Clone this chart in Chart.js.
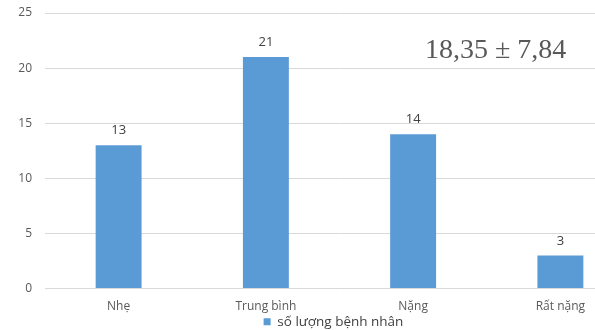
<!DOCTYPE html>
<html>
<head>
<meta charset="utf-8">
<script src="https://cdn.jsdelivr.net/npm/chart.js@4.4.1/dist/chart.umd.min.js"></script>
<style>
  html, body { margin: 0; padding: 0; background: #fff; overflow: hidden; }
  #wrap { width: 595px; height: 330px; overflow: hidden; position: relative; }
  canvas { display: block; }
</style>
</head>
<body>
<div id="wrap">
  <canvas id="chart" width="634" height="330"></canvas>
</div>
<script>
// dữ liệu
const categories = ['Nhẹ', 'Trung bình', 'Nặng', 'Rất nặng'];
const soLuong = [13, 21, 14, 3];
const seriesLabel = 'số lượng bệnh nhân';
const yTicks = [0, 5, 10, 15, 20, 25];
const annotation = '18,35 ± 7,84';

const BLUE = '#5B9BD5';

// số liệu trên đầu cột
const valueLabels = {
  id: 'valueLabels',
  afterDatasetsDraw(chart) {
    const ctx = chart.ctx;
    const meta = chart.getDatasetMeta(0);
    ctx.save();
    ctx.font = '13px "Open Sans"';
    ctx.fillStyle = '#404040';
    ctx.textAlign = 'center';
    ctx.textBaseline = 'alphabetic';
    meta.data.forEach((bar, i) => {
      ctx.fillText(String(soLuong[i]), bar.x, bar.y - 11);
    });
    ctx.restore();
  }
};

// chữ trung bình ± độ lệch
const annotationText = {
  id: 'annotationText',
  afterDraw(chart) {
    const ctx = chart.ctx;
    ctx.save();
    ctx.font = '28px "Liberation Serif"';
    ctx.fillStyle = '#595959';
    ctx.textAlign = 'left';
    ctx.textBaseline = 'middle';
    ctx.fillText(annotation, 425, 51);
    ctx.restore();
  }
};

// dời chú thích cho khớp hình gốc
const legendShift = {
  id: 'legendShift',
  afterLayout(chart) {
    const l = chart.legend;
    if (!l) return;
    l.left -= 6;
    l.right -= 6;
    l.top -= 10;
    l.bottom -= 10;
  }
};

new Chart(document.getElementById('chart'), {
  type: 'bar',
  data: {
    labels: categories,
    datasets: [{
      label: seriesLabel,
      data: soLuong,
      backgroundColor: BLUE,
      borderWidth: 0,
      barPercentage: 0.312,
      categoryPercentage: 1
    }]
  },
  options: {
    responsive: false,
    animation: false,
    devicePixelRatio: 1,
    layout: { padding: { top: 13, left: 0, right: 0, bottom: -12 } },
    plugins: {
      tooltip: { enabled: false },
      legend: {
        position: 'bottom',
        fullSize: false,
        maxHeight: 17,
        labels: {
          color: '#404040',
          font: { family: 'Open Sans', size: 13.5 },
          boxWidth: 7,
          boxHeight: 7,
          padding: 0
        }
      }
    },
    scales: {
      y: {
        min: 0,
        max: 25,
        afterBuildTicks(scale) { scale.ticks = yTicks.map(v => ({ value: v })); },
        afterFit(scale) { scale.width = 45; },
        border: { display: false },
        grid: { color: '#D9D9D9', drawTicks: true, tickLength: 10, tickColor: 'rgba(0,0,0,0)' },
        ticks: {
          color: '#595959',
          font: { family: 'Open Sans', size: 12 },
          padding: 3
        }
      },
      x: {
        border: { display: false },
        grid: { display: false, drawTicks: false },
        ticks: {
          color: '#595959',
          font: { family: 'Open Sans', size: 12 },
          padding: 11
        }
      }
    }
  },
  plugins: [valueLabels, annotationText, legendShift]
});
</script>
</body>
</html>
